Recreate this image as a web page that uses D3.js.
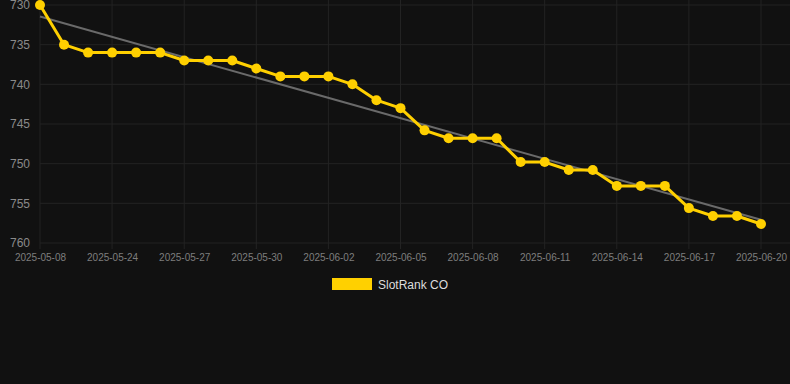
<!DOCTYPE html>
<html>
<head>
<meta charset="utf-8">
<script src="https://cdn.jsdelivr.net/npm/d3@7"></script>
<style>
  html, body { margin: 0; padding: 0; background: #111111; }
  svg { display: block; font-family: "Liberation Sans", Arial, sans-serif; }
</style>
</head>
<body>
<div id="chart"></div>
<script>
// data (rank, lower is better)
var dates = ['2025-05-08','2025-05-22','2025-05-23','2025-05-24','2025-05-25','2025-05-26',
  '2025-05-27','2025-05-28','2025-05-29','2025-05-30','2025-05-31','2025-06-01','2025-06-02',
  '2025-06-03','2025-06-04','2025-06-05','2025-06-06','2025-06-07','2025-06-08','2025-06-09',
  '2025-06-10','2025-06-11','2025-06-12','2025-06-13','2025-06-14','2025-06-15','2025-06-16',
  '2025-06-17','2025-06-18','2025-06-19','2025-06-20']
var ranks = [730,735,736,736,736,736,737,737,737,738,739,739,739,740,742,743,
  745.8,746.8,746.8,746.8,749.8,749.8,750.8,750.8,752.8,752.8,752.8,755.6,756.6,756.6,757.6]
var yTicks = [730,735,740,745,750,755,760]
var seriesName = 'SlotRank CO'

var width = 790, height = 384
var margin = {top: 5, right: 29, bottom: 141, left: 40}

var svg = d3.select('#chart').append('svg')
  .attr('width', width).attr('height', height)

svg.append('rect').attr('width', width).attr('height', height).attr('fill', '#111111')

var x = d3.scalePoint().domain(dates).range([margin.left, width - margin.right])
var y = d3.scaleLinear().domain([730, 760]).range([margin.top, height - margin.bottom])

// grid
var grid = svg.append('g')
grid.selectAll('line.h').data(yTicks).enter().append('line')
  .attr('x1', margin.left).attr('x2', width)
  .attr('y1', function(d){ return y(d) }).attr('y2', function(d){ return y(d) })
  .attr('stroke', '#232323').attr('stroke-width', 1)

var shownDates = dates.filter(function(d, i){ return i % 3 == 0 })
grid.selectAll('line.v').data(shownDates).enter().append('line')
  .attr('x1', function(d){ return x(d) }).attr('x2', function(d){ return x(d) })
  .attr('y1', 0).attr('y2', y(760) + 6)
  .attr('stroke', '#232323').attr('stroke-width', 1)

// axes
var yAxis = d3.axisLeft(y).tickValues(yTicks).tickSize(0).tickPadding(10)
svg.append('g').attr('transform', 'translate(' + margin.left + ',0)').call(yAxis)
  .call(function(g){ g.select('.domain').remove() })
  .selectAll('text').attr('fill', '#8a8a8a').attr('font-size', 12)
    .attr('font-family', '"Liberation Sans", Arial, sans-serif')

var xAxis = d3.axisBottom(x).tickValues(shownDates).tickSize(0).tickPadding(11)
svg.append('g').attr('transform', 'translate(0,' + y(760) + ')').call(xAxis)
  .call(function(g){ g.select('.domain').remove() })
  .selectAll('text').attr('fill', '#7e7e7e').attr('font-size', 10)
    .attr('font-family', '"Liberation Sans", Arial, sans-serif')

// least squares trend
var n = ranks.length
var mx = d3.mean(ranks, function(d, i){ return i })
var my = d3.mean(ranks)
var sxy = d3.sum(ranks, function(d, i){ return (i - mx) * (d - my) })
var sxx = d3.sum(ranks, function(d, i){ return (i - mx) * (i - mx) })
var slope = sxy / sxx
var icpt = my - slope * mx
svg.append('line')
  .attr('x1', x(dates[0])).attr('y1', y(icpt))
  .attr('x2', x(dates[n-1])).attr('y2', y(icpt + slope * (n-1)))
  .attr('stroke', '#6a6a6a').attr('stroke-width', 2)

// series
var line = d3.line()
  .x(function(d, i){ return x(dates[i]) })
  .y(function(d){ return y(d) })
svg.append('path').datum(ranks)
  .attr('d', line)
  .attr('fill', 'none').attr('stroke', '#FFD000').attr('stroke-width', 3)
  .attr('stroke-linejoin', 'round')

svg.selectAll('circle.pt').data(ranks).enter().append('circle')
  .attr('cx', function(d, i){ return x(dates[i]) })
  .attr('cy', function(d){ return y(d) })
  .attr('r', 5)
  .attr('fill', '#FFD000')

// legend
var legend = svg.append('g').attr('transform', 'translate(332,278)')
legend.append('rect').attr('width', 40).attr('height', 12).attr('fill', '#FFD000')
legend.append('text').attr('x', 46).attr('y', 10.5)
  .attr('fill', '#dddddd').attr('font-size', 12).text(seriesName)
</script>
</body>
</html>
